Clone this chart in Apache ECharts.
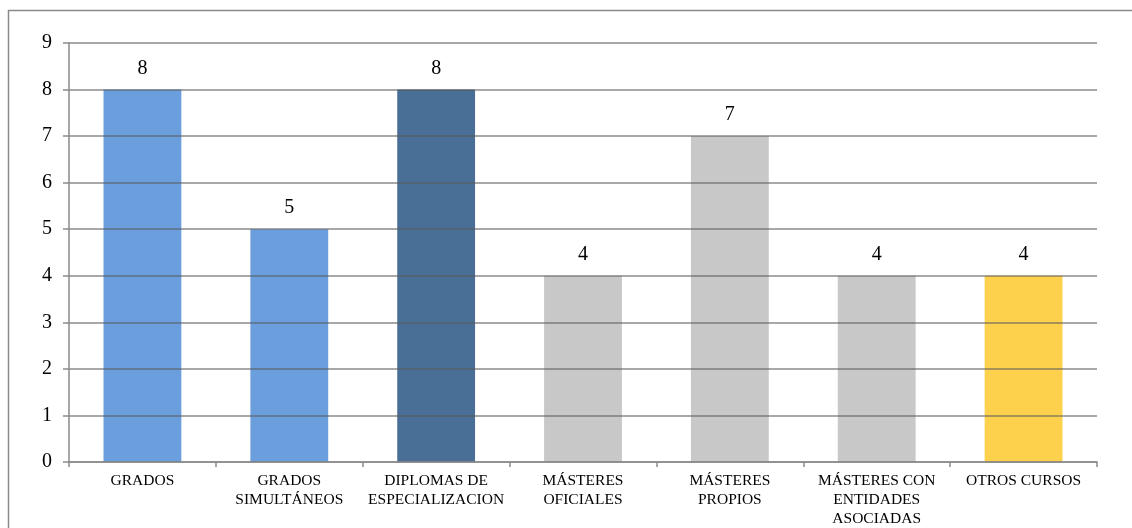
<!DOCTYPE html>
<html>
<head>
<meta charset="utf-8">
<script src="https://cdn.jsdelivr.net/npm/echarts@6/dist/echarts.min.js"></script>
<style>
  html, body { margin: 0; padding: 0; background: #fff; }
  #chart { width: 1132px; height: 528px; }
</style>
</head>
<body>
<div id="chart"></div>
<script>
// Programas por tipo de titulación
const categories = [
  'GRADOS',
  'GRADOS\nSIMULTÁNEOS',
  'DIPLOMAS DE\nESPECIALIZACION',
  'MÁSTERES\nOFICIALES',
  'MÁSTERES\nPROPIOS',
  'MÁSTERES CON\nENTIDADES\nASOCIADAS',
  'OTROS CURSOS'
];
const values = [8, 5, 8, 4, 7, 4, 4];
const barColors = ['#6b9edc', '#6b9edc', '#4a6f96', '#c8c8c8', '#c8c8c8', '#c8c8c8', '#fdd14c'];
const yTicks = [0, 1, 2, 3, 4, 5, 6, 7, 8, 9];

const serif = '"Liberation Serif", "DejaVu Serif", serif';
const axisGray = '#8a8a8a';

const chart = echarts.init(document.getElementById('chart'), null, { renderer: 'canvas' });

chart.setOption({
  animation: false,
  backgroundColor: '#ffffff',
  graphic: [{
    type: 'rect',
    shape: { x: 8.5, y: 10.5, width: 1200, height: 600 },
    style: { fill: 'none', stroke: '#8a8a8a', lineWidth: 1.5 },
    silent: true
  }],
  grid: { left: 69, right: 35, top: 43, bottom: 65, containLabel: false },
  xAxis: {
    type: 'category',
    data: categories,
    z: 5,
    axisLine: { show: true, lineStyle: { color: axisGray, width: 1.5 } },
    axisTick: { show: true, length: 5, alignWithLabel: false, lineStyle: { color: axisGray, width: 1.5 } },
    axisLabel: {
      interval: 0,
      margin: 9,
      color: '#000',
      fontFamily: serif,
      fontSize: 15.5,
      lineHeight: 19
    }
  },
  yAxis: {
    type: 'value',
    min: yTicks[0],
    max: yTicks[yTicks.length - 1],
    interval: 1,
    z: 5,
    axisLine: { show: true, lineStyle: { color: axisGray, width: 1.5 } },
    axisTick: { show: true, length: 6, lineStyle: { color: axisGray, width: 1.5 } },
    splitLine: { show: true, lineStyle: { color: 'rgba(90,90,90,0.7)', width: 1.5 } },
    axisLabel: {
      margin: 17,
      color: '#000',
      fontFamily: serif,
      fontSize: 20
    }
  },
  series: [{
    type: 'bar',
    barWidth: '53%',
    data: values.map((v, i) => ({ value: v, itemStyle: { color: barColors[i] } })),
    label: {
      show: true,
      position: 'top',
      distance: 11,
      color: '#000',
      fontFamily: serif,
      fontSize: 20
    }
  }]
});
</script>
</body>
</html>
